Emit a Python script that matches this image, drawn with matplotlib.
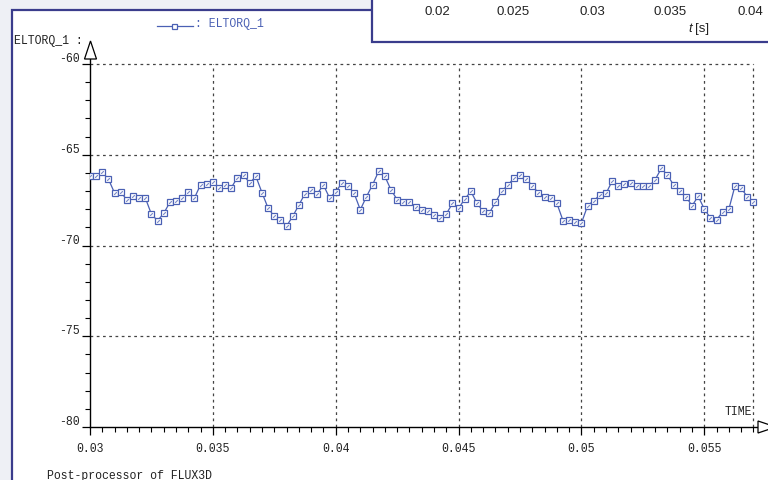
import numpy as np
import matplotlib
matplotlib.use("Agg")
import matplotlib.pyplot as plt
from matplotlib.patches import Polygon, Rectangle
from matplotlib.lines import Line2D

# electromagnetic torque ELTORQ_1 sampled every 0.25 ms from t = 0.03 s
t_start = 0.03
t_step = 0.00025
eltorq = [
    -66.19, -66.19, -65.97, -66.34, -67.11, -67.07, -67.47, -67.25, -67.40, -67.37,
    -68.28, -68.63, -68.23, -67.62, -67.55, -67.37, -67.07, -67.38, -66.65, -66.61,
    -66.48, -66.81, -66.69, -66.81, -66.26, -66.12, -66.56, -66.19, -67.09, -67.95,
    -68.39, -68.58, -68.93, -68.39, -67.77, -67.14, -66.94, -67.14, -66.67, -67.38,
    -67.05, -66.56, -66.70, -67.13, -68.03, -67.31, -66.65, -65.90, -66.19, -66.94,
    -67.47, -67.58, -67.58, -67.90, -68.03, -68.12, -68.32, -68.49, -68.26, -67.68,
    -67.95, -67.44, -67.02, -67.68, -68.12, -68.21, -67.62, -67.02, -66.67, -66.30,
    -66.12, -66.34, -66.70, -67.11, -67.31, -67.40, -67.68, -68.63, -68.58, -68.72,
    -68.76, -67.81, -67.53, -67.22, -67.13, -66.45, -66.70, -66.61, -66.56, -66.70,
    -66.74, -66.74, -66.37, -65.75, -66.12, -66.67, -67.00, -67.31, -67.81, -67.29,
    -67.99, -68.49, -68.58, -68.14, -67.99, -66.70, -66.85, -67.31, -67.62,
]
times = t_start + t_step * np.arange(len(eltorq))

x_ticks = [0.03, 0.035, 0.04, 0.045, 0.05, 0.055]
x_labels = ["0.03", "0.035", "0.04", "0.045", "0.05", "0.055"]
y_ticks = [-80, -75, -70, -65, -60]
y_labels = ["-80", "-75", "-70", "-65", "-60"]
# axis labels of the other window sitting on top
top_labels = ["0.02", "0.025", "0.03", "0.035", "0.04"]

W, H = 768, 481
BLUE = "#4a60b4"
NAVY = "#3a3c8c"
MONO = "Liberation Mono"
fs = 8.3


def px(x, y):
    return (x / W, 1 - y / H)


fig = plt.figure(figsize=(W / 100, H / 100), dpi=100)
fig.patch.set_facecolor("#eef0f5")

# white page with its frame, kept under the axes
fig.patches.append(Rectangle(px(12, H + 5), (W + 10) / W, (H - 6) / H,
                             transform=fig.transFigure, facecolor="white",
                             edgecolor=NAVY, lw=1.6, zorder=-5))

ax = fig.add_axes([90 / W, (H - 428) / H, (758 - 90) / W, (428 - 60) / H])
ax.set_facecolor("none")
ax.set_xlim(0.03, 0.03 + 668 / 24573)
ax.set_ylim(-80, -80 + 368 / 18.15)

# dashed grid, stopping at the last sample and at -60
t_end = times[-1]
ax.hlines([-75, -70, -65, -60], 0.03, t_end, colors="#444444",
          linestyles=(0, (2.2, 2.8)), lw=0.9)
ax.vlines([0.035, 0.04, 0.045, 0.05, 0.055, t_end], -80, -60, colors="#444444",
          linestyles=(0, (2.2, 2.8)), lw=0.9)

ax.plot(times, eltorq, color=BLUE, lw=0.9, marker="s", ms=4.4,
        mfc="white", mec=BLUE, mew=0.9, zorder=3)
ax.plot(times, eltorq, ls="none", marker=(2, 2, -45), ms=2.6,
        mec=BLUE, mew=0.6, alpha=0.7, zorder=4)

for side in ("top", "right"):
    ax.spines[side].set_visible(False)
for side in ("left", "bottom"):
    ax.spines[side].set_color("black")
    ax.spines[side].set_linewidth(1.0)

ax.set_xticks(x_ticks)
ax.set_xticklabels(x_labels)
ax.set_xticks(np.arange(0.0305, 0.0571, 0.0005), minor=True)
ax.set_yticks(y_ticks)
ax.set_yticklabels(y_labels)
ax.set_yticks(np.arange(-79, -60, 1), minor=True)
ax.tick_params(which="major", direction="out", length=6, width=0.9,
               colors="black", labelsize=fs)
ax.tick_params(which="minor", direction="out", length=3.5, width=0.8,
               colors="black")
ax.tick_params(axis="x", which="major", pad=5)
ax.tick_params(axis="y", which="major", pad=1.5)
for lab in ax.get_xticklabels() + ax.get_yticklabels():
    lab.set_fontfamily(MONO)
    lab.set_color("#222222")
for lab in ax.get_yticklabels():
    lab.set_va("bottom")

# hollow arrow heads at the axis ends
fig.patches.append(Polygon([px(84.5, 60), px(96.5, 60), px(90.5, 42)],
                           closed=True, transform=fig.transFigure,
                           facecolor="white", edgecolor="black", lw=0.9))
fig.patches.append(Polygon([px(758, 422), px(758, 434), px(776, 428)],
                           closed=True, transform=fig.transFigure,
                           facecolor="white", edgecolor="black", lw=0.9))

fig.text(*px(14, 41), "ELTORQ_1 :", family=MONO, fontsize=fs,
         color="#222222", va="center", ha="left")
fig.text(*px(752, 412), "TIME", family=MONO, fontsize=fs,
         color="#222222", va="center", ha="right")
fig.text(*px(47, 470), "Post-processor of FLUX3D", family=MONO,
         fontsize=fs, color="#222222", va="top", ha="left")

# legend entry
leg_y = 1 - 27 / H
fig.add_artist(Line2D([157 / W, 193 / W], [leg_y, leg_y], color=BLUE,
                      lw=0.9, transform=fig.transFigure))
fig.add_artist(Line2D([174 / W], [leg_y], color=BLUE, marker="s", ms=3.6,
                      mfc="white", mec=BLUE, mew=0.9,
                      transform=fig.transFigure))
fig.text(*px(195, 24), ": ELTORQ_1", family=MONO, fontsize=fs,
         color=BLUE, va="center", ha="left")

# window on top with its own time axis labels
fig.patches.append(Rectangle(px(372, 43), (W + 10 - 372) / W, 50 / H,
                             transform=fig.transFigure, facecolor="white",
                             edgecolor=NAVY, lw=1.6, zorder=5))
for xpos, lab in zip([437, 513, 592, 670, 750], top_labels):
    fig.text(*px(xpos, 12), lab, family="Liberation Sans", fontsize=9.5,
             color="#222222", ha="center", va="center", zorder=6)
fig.text(*px(692, 29), "t", family="Liberation Sans", style="italic",
         fontsize=9.5, color="#222222", ha="right", va="center", zorder=6)
fig.text(*px(695, 29), "[s]", family="Liberation Sans", fontsize=9.5,
         color="#222222", ha="left", va="center", zorder=6)

fig.savefig("out.png", dpi=100)
